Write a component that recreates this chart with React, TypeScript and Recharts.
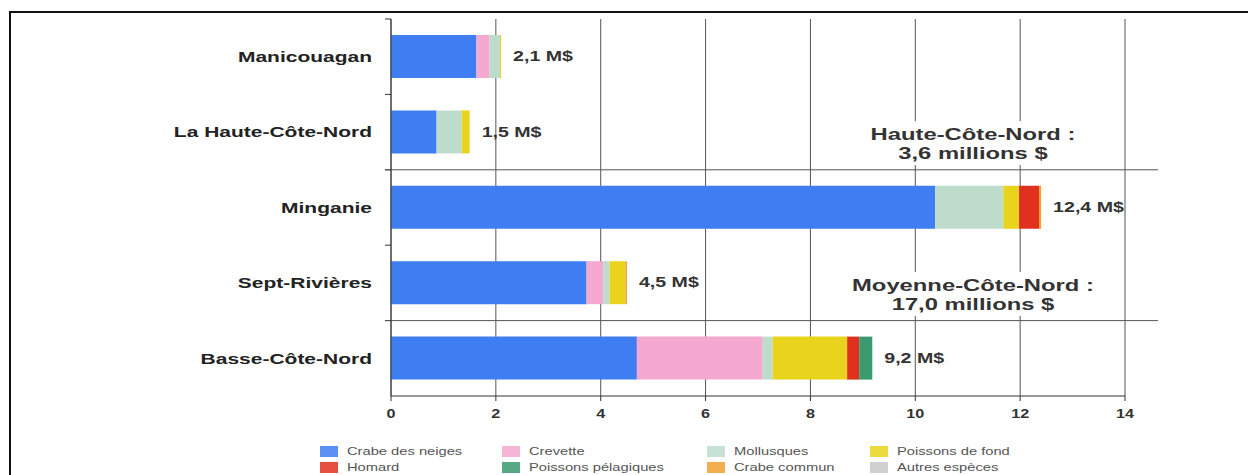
import React from "react";
import {
  BarChart,
  Bar,
  XAxis,
  YAxis,
  CartesianGrid,
  ReferenceLine,
  ReferenceDot,
} from "recharts";

// Valeur des débarquements par MRC (millions $)
const categories = [
  "Manicouagan",
  "La Haute-Côte-Nord",
  "Minganie",
  "Sept-Rivières",
  "Basse-Côte-Nord",
];
const crabeNeiges = [1.63, 0.87, 10.38, 3.73, 4.69];
const crevette = [0.25, 0, 0, 0.32, 2.4];
const mollusques = [0.2, 0.48, 1.3, 0.12, 0.19];
const poissonsFond = [0.02, 0.15, 0.3, 0.3, 1.42];
const homard = [0, 0, 0.38, 0, 0.23];
const pelagiques = [0, 0, 0, 0, 0.25];
const crabeCommun = [0, 0, 0.04, 0.03, 0];
const autres = [0, 0, 0, 0, 0];

const totalLabels = ["2,1 M$", "1,5 M$", "12,4 M$", "4,5 M$", "9,2 M$"];
const xTicks = [0, 2, 4, 6, 8, 10, 12, 14];

// regroupements : le séparateur passe au début de la catégorie indiquée
const groupStarts = ["Minganie", "Basse-Côte-Nord"];
const groupNotes = [
  { lines: ["Haute-Côte-Nord :", "3,6 millions $"], at: "La Haute-Côte-Nord" },
  { lines: ["Moyenne-Côte-Nord :", "17,0 millions $"], at: "Sept-Rivières" },
];

const seriesNames = [
  "Crabe des neiges",
  "Crevette",
  "Mollusques",
  "Poissons de fond",
  "Homard",
  "Poissons pélagiques",
  "Crabe commun",
  "Autres espèces",
];
const seriesValues = [
  crabeNeiges,
  crevette,
  mollusques,
  poissonsFond,
  homard,
  pelagiques,
  crabeCommun,
  autres,
];
const seriesColors = [
  "#3f7ef2",
  "#f5a8d0",
  "#bddccc",
  "#e9d31c",
  "#e0311f",
  "#3a9b70",
  "#f0a030",
  "#c8c8c8",
];

const data = categories.map((name, i) => {
  const row: any = { name };
  seriesNames.forEach((s, k) => (row[s] = seriesValues[k][i]));
  return row;
});

const totals = categories.map((_, i) =>
  seriesValues.reduce((acc, arr) => acc + arr[i], 0)
);

const FONT = "'Liberation Sans', Arial, sans-serif";
const STRETCH = 1.4;
const NOTE_X = 11.1;

function CategoryTick({ x, y, payload }: any) {
  return (
    <text
      transform={`translate(${x},${y}) scale(${STRETCH},1)`}
      textAnchor="end"
      dominantBaseline="central"
      fontFamily={FONT}
      fontSize={15}
      fontWeight="bold"
      fill="#222"
    >
      {payload.value}
    </text>
  );
}

function ValueTick({ x, y, payload }: any) {
  return (
    <text
      transform={`translate(${x},${y}) scale(1.35,1)`}
      textAnchor="middle"
      dy="0.71em"
      fontFamily={FONT}
      fontSize={12}
      fontWeight="bold"
      fill="#333"
    >
      {payload.value}
    </text>
  );
}

function NoteBox({ cx, cy, lines }: any) {
  // le bloc de texte est un peu sous le centre de la catégorie
  const c = cy + 11;
  return (
    <g>
      <rect x={cx - 110} y={c - 22} width={220} height={44} fill="#fff" />
      {lines.map((t: string, i: number) => (
        <text
          key={i}
          transform={`translate(${cx},${c - 9.5 + i * 19}) scale(${STRETCH},1)`}
          textAnchor="middle"
          dominantBaseline="central"
          fontFamily={FONT}
          fontSize={17}
          fontWeight="bold"
          fill="#333"
        >
          {t}
        </text>
      ))}
    </g>
  );
}

function Legend8() {
  const cols = [320, 502, 707, 870];
  return (
    <div style={{ position: "absolute", left: 0, top: 444, width: 1248 }}>
      {seriesNames.map((s, k) => (
        <div
          key={s}
          style={{
            position: "absolute",
            left: cols[k % 4],
            top: Math.floor(k / 4) * 16,
            height: 14,
            display: "flex",
            alignItems: "center",
          }}
        >
          <span
            style={{
              width: 18,
              height: 11,
              background: seriesColors[k],
              opacity: 0.85,
              display: "inline-block",
            }}
          />
          <span
            style={{
              marginLeft: 9,
              fontFamily: FONT,
              fontSize: 10.5,
              color: "#555",
              whiteSpace: "nowrap",
              display: "inline-block",
              transform: `scale(${STRETCH},1)`,
              transformOrigin: "left center",
            }}
          >
            {s}
          </span>
        </div>
      ))}
    </div>
  );
}

export default function App() {
  return (
    <div
      style={{
        position: "absolute",
        left: 0,
        top: 0,
        width: 1248,
        height: 475,
        background: "#fff",
        overflow: "hidden",
      }}
    >
      {/* cadre de la page numérisée */}
      <div
        style={{
          position: "absolute",
          left: 9,
          top: 11,
          width: 1239,
          height: 470,
          borderTop: "2px solid #111",
          borderLeft: "2px solid #111",
        }}
      />
      <div style={{ position: "absolute", left: 0, top: 0 }}>
        <BarChart
          width={1248}
          height={475}
          data={data}
          layout="vertical"
          margin={{ top: 19, right: 123, bottom: 49, left: 0 }}
          barSize={43}
        >
          <CartesianGrid horizontal={false} vertical={true} stroke="#555" />
          <XAxis
            type="number"
            domain={[0, 14]}
            ticks={xTicks}
            height={30}
            tickSize={5}
            tickMargin={8}
            stroke="#333"
            tick={<ValueTick />}
          />
          <YAxis
            yAxisId="cat"
            type="category"
            dataKey="name"
            width={391}
            stroke="#333"
            tickLine={false}
            tickSize={0}
            tickMargin={19}
            interval={0}
            tick={<CategoryTick />}
          />
          {seriesNames.map((s, k) => (
            <Bar
              key={s}
              dataKey={s}
              stackId="a"
              yAxisId="cat"
              fill={seriesColors[k]}
              isAnimationActive={false}
            />
          ))}
          {/* petites graduations aux limites des catégories */}
          {categories.map((c) => (
            <ReferenceLine
              key={"t" + c}
              yAxisId="cat"
              position="start"
              segment={[
                { x: -0.115, y: c },
                { x: 0, y: c },
              ]}
              stroke="#333"
              ifOverflow="visible"
            />
          ))}
          {groupStarts.map((c) => (
            <ReferenceLine
              key={"g" + c}
              yAxisId="cat"
              position="start"
              segment={[
                { x: -0.115, y: c },
                { x: 14.63, y: c },
              ]}
              stroke="#555"
              ifOverflow="visible"
            />
          ))}
          {categories.map((c, i) => (
            <ReferenceDot
              key={c}
              yAxisId="cat"
              x={totals[i]}
              y={c}
              r={0}
              ifOverflow="visible"
              shape={(p: any) => (
                <text
                  transform={`translate(${p.cx + 12},${p.cy}) scale(${STRETCH},1)`}
                  textAnchor="start"
                  dominantBaseline="central"
                  fontFamily={FONT}
                  fontSize={14}
                  fontWeight="bold"
                  fill="#333"
                >
                  {totalLabels[i]}
                </text>
              )}
            />
          ))}
          {groupNotes.map((n) => (
            <ReferenceDot
              key={n.at}
              yAxisId="cat"
              x={NOTE_X}
              y={n.at}
              r={0}
              ifOverflow="visible"
              shape={(p: any) => <NoteBox cx={p.cx} cy={p.cy} lines={n.lines} />}
            />
          ))}
        </BarChart>
      </div>
      <Legend8 />
    </div>
  );
}
